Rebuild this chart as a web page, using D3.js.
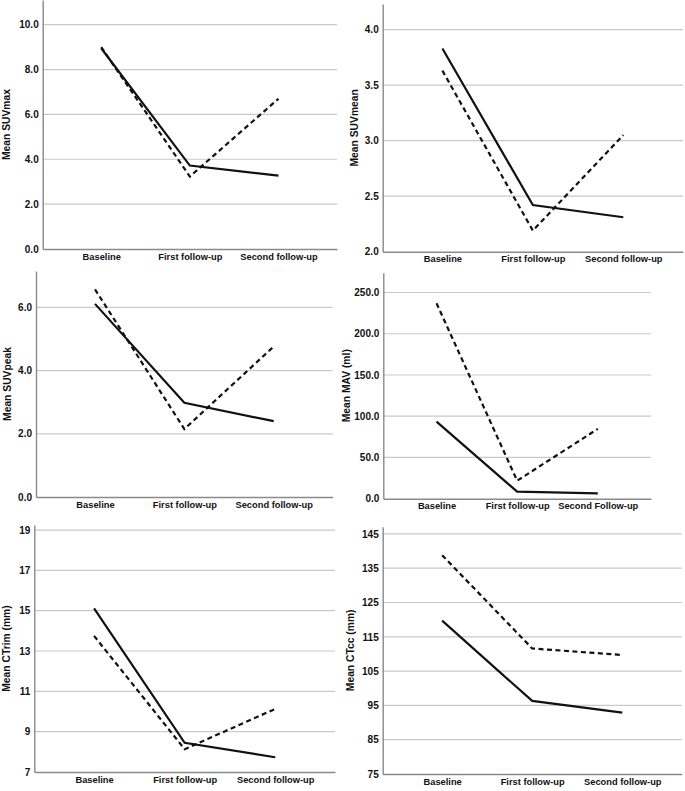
<!DOCTYPE html>
<html>
<head>
<meta charset="utf-8">
<script src="https://cdn.jsdelivr.net/npm/d3@7"></script>
<style>
  body { margin: 0; background: #fff; }
  svg { display: block; }
  text { font-family: "Liberation Sans", Arial, sans-serif; font-weight: bold; fill: #111; }
</style>
</head>
<body>
<div id="chart"></div>
<script>
// categories
var categories = ["Baseline", "First follow-up", "Second follow-up"];
var categoriesMAV = ["Baseline", "First follow-up", "Second Follow-up"];

// series values (solid / dashed)
var suvmaxSolid = [8.95, 3.72, 3.27];
var suvmaxDashed = [9.0, 3.23, 6.70];
var suvmeanSolid = [3.83, 2.42, 2.31];
var suvmeanDashed = [3.63, 2.19, 3.05];
var suvpeakSolid = [6.11, 2.98, 2.40];
var suvpeakDashed = [6.57, 2.15, 4.76];
var mavSolid = [93.4, 8.5, 6.5];
var mavDashed = [237, 21.8, 84.6];
var ctrimSolid = [15.12, 8.45, 7.73];
var ctrimDashed = [13.75, 8.13, 10.13];
var ctccSolid = [119.7, 96.3, 92.9];
var ctccDashed = [138.8, 111.6, 109.7];

// tick labels
var suvmaxTicks = [0, 2, 4, 6, 8, 10];
var suvmeanTicks = [2.0, 2.5, 3.0, 3.5, 4.0];
var suvpeakTicks = [0, 2, 4, 6];
var mavTicks = [0, 50, 100, 150, 200, 250];
var ctrimTicks = [7, 9, 11, 13, 15, 17, 19];
var ctccTicks = [75, 85, 95, 105, 115, 125, 135, 145];

var width = 685, height = 791;

var svg = d3.select("#chart")
    .append("svg")
        .attr("width", width)
        .attr("height", height);

// one entry per panel: data + where it sits on the page
var panels = [
    {title: "Mean SUVmax", cats: categories, solid: suvmaxSolid, dashed: suvmaxDashed,
     ticks: suvmaxTicks, fmt: ".1f", domain: [0, 11.1],
     left: 42.7, right: 337, top: 0, bottom: 249, titleX: 7.5},
    {title: "Mean SUVmean", cats: categories, solid: suvmeanSolid, dashed: suvmeanDashed,
     ticks: suvmeanTicks, fmt: ".1f", domain: [2, 4.23],
     left: 382.7, right: 683, top: 4, bottom: 251.7, titleX: 355},
    {title: "Mean SUVpeak", cats: categories, solid: suvpeakSolid, dashed: suvpeakDashed,
     ticks: suvpeakTicks, fmt: ".1f", domain: [0, 7.15],
     left: 36, right: 332.7, top: 271, bottom: 497, titleX: 8.3},
    {title: "Mean MAV (ml)", cats: categoriesMAV, solid: mavSolid, dashed: mavDashed,
     ticks: mavTicks, fmt: ".1f", domain: [0, 274],
     left: 383.3, right: 651, top: 272.7, bottom: 498.7, titleX: 347.3},
    {title: "Mean CTrim (mm)", cats: categories, solid: ctrimSolid, dashed: ctrimDashed,
     ticks: ctrimTicks, fmt: "d", domain: [7, 19.25],
     left: 34.3, right: 335, top: 525, bottom: 772, titleX: 7.5},
    {title: "Mean CTcc (mm)", cats: categories, solid: ctccSolid, dashed: ctccDashed,
     ticks: ctccTicks, fmt: "d", domain: [75, 147.1],
     left: 382.7, right: 681.7, top: 526.7, bottom: 774, titleX: 351.7}
];

panels.forEach(function(p) {
    var g = svg.append("g");

    var x = d3.scalePoint()
        .domain(p.cats)
        .range([p.left, p.right])
        .padding(0.66);

    var y = d3.scaleLinear()
        .domain(p.domain)
        .range([p.bottom, p.top]);

    // gridlines
    g.selectAll("line.grid")
        .data(p.ticks.filter(function(t) { return t !== p.domain[0]; }))
        .enter()
        .append("line")
        .attr("class", "grid")
        .attr("x1", p.left)
        .attr("x2", p.right)
        .attr("y1", function(d) { return y(d); })
        .attr("y2", function(d) { return y(d); })
        .attr("stroke", "#c9c9c9")
        .attr("stroke-width", 1.2);

    // y axis
    var yAxis = g.append("g")
        .attr("transform", "translate(" + p.left + ",0)")
        .call(d3.axisLeft(y).tickValues(p.ticks).tickFormat(d3.format(p.fmt)).tickSize(0).tickPadding(4));
    yAxis.select(".domain").attr("stroke", "#8a8a8a").attr("stroke-width", 1.4);
    yAxis.selectAll("text").style("font-size", "10px").attr("fill", "#111");

    // x axis
    var xAxis = g.append("g")
        .attr("transform", "translate(0," + p.bottom + ")")
        .call(d3.axisBottom(x).tickSize(0).tickPadding(4));
    xAxis.select(".domain").attr("stroke", "#8a8a8a").attr("stroke-width", 1.4);
    xAxis.selectAll("text").style("font-size", "9.3px").attr("fill", "#111");

    // y title
    g.append("text")
        .attr("transform", "translate(" + p.titleX + "," + ((p.top + p.bottom) / 2) + ")rotate(-90)")
        .attr("text-anchor", "middle")
        .attr("dominant-baseline", "middle")
        .style("font-size", "10.3px")
        .text(p.title);

    var line = d3.line()
        .x(function(d, i) { return x(p.cats[i]); })
        .y(function(d) { return y(d); });

    g.append("path")
        .datum(p.dashed)
        .attr("d", line)
        .attr("fill", "none")
        .attr("stroke", "#111")
        .attr("stroke-width", 2.2)
        .attr("stroke-dasharray", "5,3.5");

    g.append("path")
        .datum(p.solid)
        .attr("d", line)
        .attr("fill", "none")
        .attr("stroke", "#111")
        .attr("stroke-width", 2.2);
});
</script>
</body>
</html>
